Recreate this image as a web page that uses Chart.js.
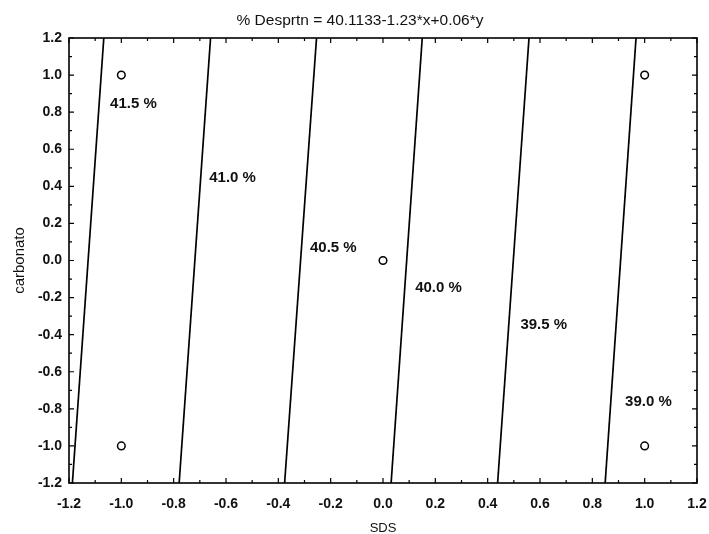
<!DOCTYPE html>
<html>
<head>
<meta charset="utf-8">
<script src="https://cdn.jsdelivr.net/npm/chart.js@4/dist/chart.umd.min.js"></script>
<style>
  html, body { margin: 0; padding: 0; background: #fff; }
  #wrap { width: 709px; height: 534px; }
</style>
</head>
<body>
<div id="wrap"><canvas id="chart-contour"></canvas></div>
<script>
const chartTitle = '% Desprtn = 40.1133-1.23*x+0.06*y';

// contour levels and where each line meets the bottom (y=-1.2) and top (y=1.2) edges
const levelLabels = ['41.5 %', '41.0 %', '40.5 %', '40.0 %', '39.5 %', '39.0 %'];
const lineBottomX = [-1.187, -0.779, -0.376, 0.031, 0.438, 0.849];
const lineTopX = [-1.067, -0.659, -0.254, 0.150, 0.558, 0.967];
const edgeY = [-1.2, 1.2];

// label anchors (left edge, vertical middle) in data units
const labelX = [-1.043, -0.664, -0.279, 0.123, 0.525, 0.925];
const labelY = [0.844, 0.444, 0.067, -0.149, -0.346, -0.763];

// design points
const pointX = [-1, -1, 0, 1, 1];
const pointY = [1, -1, 0, 1, -1];

const FONT = "'Liberation Sans', Arial, sans-serif";

const frameTicks = {
    id: 'frameTicks',
    afterDatasetsDraw(chart) {
        const { ctx, chartArea: a, scales } = chart;
        ctx.save();
        ctx.strokeStyle = '#000';
        ctx.lineWidth = 1.2;
        for (let i = -12; i <= 12; i++) {
            const v = i / 10;
            const len = i % 2 === 0 ? 5 : 3;
            const px = scales.x.getPixelForValue(v);
            const py = scales.y.getPixelForValue(v);
            ctx.beginPath();
            ctx.moveTo(px, a.bottom); ctx.lineTo(px, a.bottom - len);
            ctx.moveTo(px, a.top); ctx.lineTo(px, a.top + len);
            ctx.moveTo(a.left, py); ctx.lineTo(a.left + len, py);
            ctx.moveTo(a.right, py); ctx.lineTo(a.right - len, py);
            ctx.stroke();
        }
        ctx.lineWidth = 1.6;
        ctx.strokeRect(a.left, a.top, a.right - a.left, a.bottom - a.top);

        ctx.fillStyle = '#111';
        ctx.font = `bold 15px ${FONT}`;
        ctx.textAlign = 'left';
        ctx.textBaseline = 'middle';
        levelLabels.forEach((t, i) => {
            ctx.fillText(t, scales.x.getPixelForValue(labelX[i]), scales.y.getPixelForValue(labelY[i]));
        });

        // title sits a little right of the canvas centre, over the plot
        ctx.font = `15.5px ${FONT}`;
        ctx.textAlign = 'center';
        ctx.fillText(chartTitle, 360, 21);
        ctx.restore();
    },
};

const lineSets = levelLabels.map((lab, i) => ({
    type: 'line',
    label: lab,
    data: [{ x: lineBottomX[i], y: edgeY[0] }, { x: lineTopX[i], y: edgeY[1] }],
    borderColor: '#000',
    borderWidth: 1.7,
    pointRadius: 0,
    fill: false,
}));

new Chart(document.getElementById('chart-contour').getContext('2d'), {
    type: 'scatter',
    data: {
        datasets: [
            ...lineSets,
            {
                label: 'points',
                data: pointX.map((x, i) => ({ x, y: pointY[i] })),
                pointStyle: 'circle',
                pointRadius: 3.8,
                pointBackgroundColor: '#fff',
                pointBorderColor: '#000',
                pointBorderWidth: 1.5,
            },
        ],
    },
    plugins: [frameTicks],
    options: {
        responsive: true,
        maintainAspectRatio: false,
        animation: false,
        layout: { padding: { left: 0, right: 12, top: 38, bottom: 0 } },
        plugins: {
            legend: { display: false },
            tooltip: { enabled: false },
            title: { display: false },
        },
        scales: {
            x: {
                type: 'linear',
                min: -1.2,
                max: 1.2,
                afterFit: s => { s.height = 51; s.paddingLeft = 0; s.paddingRight = 0; },
                ticks: {
                    stepSize: 0.2,
                    padding: 13,
                    color: '#111',
                    font: { family: FONT, size: 14, weight: 'bold' },
                    callback: v => Number(v).toFixed(1),
                },
                grid: { display: false, drawTicks: false },
                border: { display: false },
                title: {
                    display: true,
                    text: 'SDS',
                    color: '#111',
                    font: { family: FONT, size: 13, lineHeight: 0.8 },
                    padding: { top: 0, bottom: 0 },
                },
            },
            y: {
                type: 'linear',
                min: -1.2,
                max: 1.2,
                afterFit: s => { s.width = 69; s.paddingTop = 0; s.paddingBottom = 0; },
                ticks: {
                    stepSize: 0.2,
                    padding: 7,
                    color: '#111',
                    font: { family: FONT, size: 14, weight: 'bold' },
                    callback: v => Number(v).toFixed(1),
                },
                grid: { display: false, drawTicks: false },
                border: { display: false },
                title: {
                    display: true,
                    text: 'carbonato',
                    color: '#111',
                    font: { family: FONT, size: 15 },
                    padding: { top: 11, bottom: 0 },
                },
            },
        },
    },
});
</script>
</body>
</html>
